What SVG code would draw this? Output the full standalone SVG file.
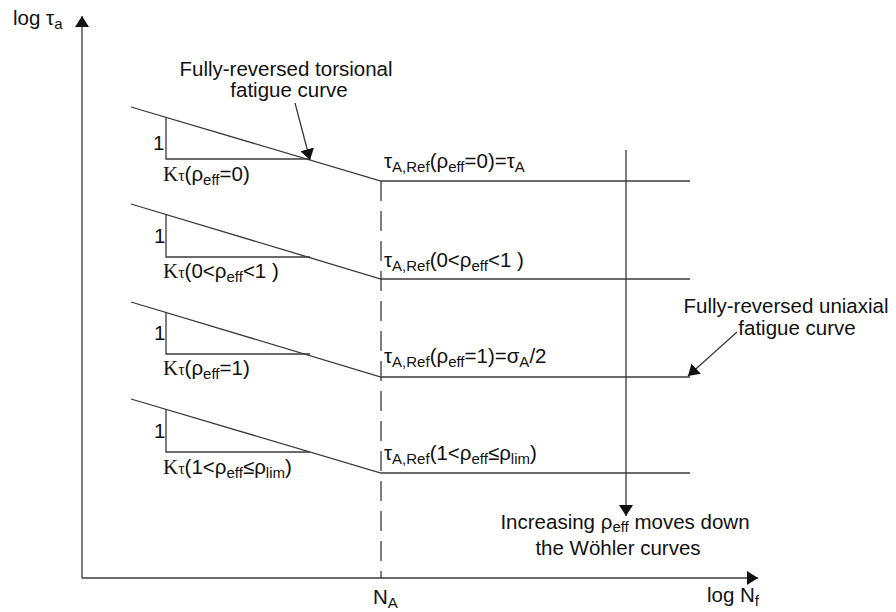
<svg xmlns="http://www.w3.org/2000/svg" width="896" height="612" viewBox="0 0 896 612">
<defs>
<marker id="ah" viewBox="0 0 11 14" refX="11" refY="7" markerWidth="11" markerHeight="14" markerUnits="userSpaceOnUse" orient="auto">
<path d="M0,0 L11,7 L0,14 Z" fill="#111"/>
</marker>
</defs>
<style>
.ln{stroke:#3a3a3a;stroke-width:1.3;fill:none}
.dash{stroke:#3a3a3a;stroke-width:1.3;fill:none;stroke-dasharray:20 10}
.t{font-family:"Liberation Sans",Arial,sans-serif;font-size:20.5px;fill:#111}
.s{font-size:15px}
.kk{font-family:"Liberation Serif","Times New Roman",serif;font-size:21px}
.kt{font-family:"Liberation Serif","Times New Roman",serif;font-size:16px}
</style>
<rect width="896" height="612" fill="#fff"/>

<g id="axes">
<line class="ln" x1="82" y1="578" x2="82" y2="16" marker-end="url(#ah)"/>
<line class="ln" x1="82" y1="578" x2="758" y2="578" marker-end="url(#ah)"/>
<line class="dash" x1="381" y1="181" x2="381" y2="578"/>
<text class="t" x="13" y="25">log τ<tspan class="s" dy="4">a</tspan></text>
<text class="t" x="373" y="604">N<tspan class="s" dy="4">A</tspan></text>
<text class="t" x="707" y="602">log N<tspan class="s" dy="4">f</tspan></text>
</g>

<g id="curve1">
<polyline class="ln" points="131,107 381,181 690,181"/>
<polyline class="ln" points="166,117 166,159 310,159"/>
<text class="t" x="153" y="150">1</text>
<text class="t" x="163" y="181"><tspan class="kk">K</tspan><tspan class="kt">τ</tspan>(ρ<tspan class="s" dy="4">eff</tspan><tspan dy="-4">=0)</tspan></text>
<text class="t" x="384" y="168">τ<tspan class="s" dy="4">A,Ref</tspan><tspan dy="-4">(ρ</tspan><tspan class="s" dy="4">eff</tspan><tspan dy="-4">=0)=τ</tspan><tspan class="s" dy="4">A</tspan></text>
</g>

<g id="curve2">
<polyline class="ln" points="131,204 381,279 690,279"/>
<polyline class="ln" points="166,214 166,257 310,257"/>
<text class="t" x="154" y="243">1</text>
<text class="t" x="163" y="278"><tspan class="kk">K</tspan><tspan class="kt">τ</tspan>(0&lt;ρ<tspan class="s" dy="4">eff</tspan><tspan dy="-4">&lt;1 )</tspan></text>
<text class="t" x="384" y="267">τ<tspan class="s" dy="4">A,Ref</tspan><tspan dy="-4">(0&lt;ρ</tspan><tspan class="s" dy="4">eff</tspan><tspan dy="-4">&lt;1 )</tspan></text>
</g>

<g id="curve3">
<polyline class="ln" points="131,302 381,377 690,377"/>
<polyline class="ln" points="166,312 166,354 310,354"/>
<text class="t" x="154" y="340">1</text>
<text class="t" x="163" y="375"><tspan class="kk">K</tspan><tspan class="kt">τ</tspan>(ρ<tspan class="s" dy="4">eff</tspan><tspan dy="-4">=1)</tspan></text>
<text class="t" x="384" y="363">τ<tspan class="s" dy="4">A,Ref</tspan><tspan dy="-4">(ρ</tspan><tspan class="s" dy="4">eff</tspan><tspan dy="-4">=1)=σ</tspan><tspan class="s" dy="4">A</tspan><tspan dy="-4">/2</tspan></text>
</g>

<g id="curve4">
<polyline class="ln" points="131,399 381,473 690,473"/>
<polyline class="ln" points="166,409 166,452 310,452"/>
<text class="t" x="154" y="438">1</text>
<text class="t" x="163" y="474"><tspan class="kk">K</tspan><tspan class="kt">τ</tspan>(1&lt;ρ<tspan class="s" dy="4">eff</tspan><tspan dy="-4">≤ρ</tspan><tspan class="s" dy="4">lim</tspan><tspan dy="-4">)</tspan></text>
<text class="t" x="384" y="460">τ<tspan class="s" dy="4">A,Ref</tspan><tspan dy="-4">(1&lt;ρ</tspan><tspan class="s" dy="4">eff</tspan><tspan dy="-4">≤ρ</tspan><tspan class="s" dy="4">lim</tspan><tspan dy="-4">)</tspan></text>
</g>

<g id="torsional-label">
<text class="t" x="286" y="76" text-anchor="middle">Fully-reversed torsional</text>
<text class="t" x="289" y="97" text-anchor="middle">fatigue curve</text>
</g>

<g id="uniaxial-label">
<text class="t" x="786" y="313" text-anchor="middle">Fully-reversed uniaxial</text>
<text class="t" x="797" y="335" text-anchor="middle">fatigue curve</text>
</g>

<g id="increasing-label">
<text class="t" x="625" y="529" text-anchor="middle">Increasing ρ<tspan class="s" dy="3">eff</tspan><tspan dy="-3"> moves down</tspan></text>
<text class="t" x="618" y="555" text-anchor="middle">the Wöhler curves</text>
</g>

<g id="connectors">
<line class="ln" x1="295" y1="103" x2="310" y2="160" marker-end="url(#ah)"/>
<line class="ln" x1="737" y1="332" x2="688" y2="376" marker-end="url(#ah)"/>
<line class="ln" x1="626" y1="150" x2="626" y2="516" marker-end="url(#ah)"/>
</g>
</svg>
